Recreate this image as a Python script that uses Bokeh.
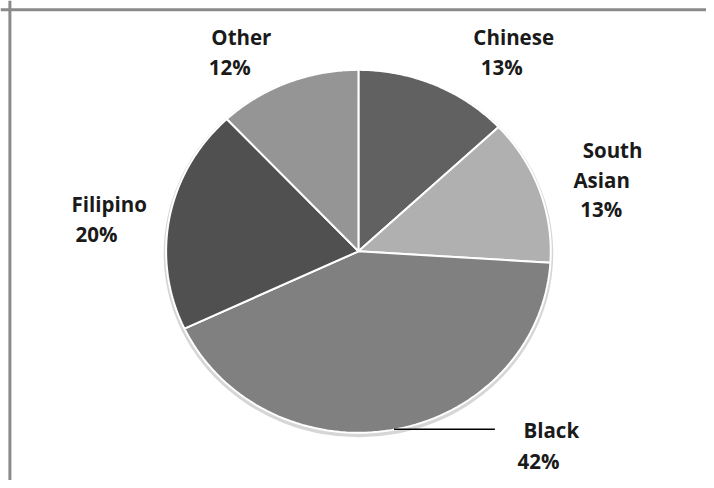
import numpy as np
from bokeh.plotting import figure
from bokeh.models import Range1d, Span
from bokeh.core.properties import value
from bokeh.embed import file_html
from bokeh.resources import INLINE

# ---- data ----
groups = ["Chinese", "South Asian", "Black", "Filipino", "Other"]
shares = [13, 13, 42, 20, 12]
colors = ["#616161", "#b0b0b0", "#808080", "#505050", "#959595"]

# ---- layout (reference-pixel coordinates, y grows downward) ----
W, H = 706, 480
RW, RH = 714, 488
cx, cy = 362, 255
rx, ry = 194.5, 184.5
# label line anchors, one per text line
label_pos = [
    [(519, 37), (507, 68)],
    [(619, 152), (608, 182), (607.5, 212)],
    [(557, 437), (544, 468)],
    [(110, 207), (97, 237)],
    [(243.6, 37), (231.8, 68)],
]

p = figure(width=W, height=H, output_backend="svg", toolbar_location=None,
           x_range=Range1d(0, RW), y_range=Range1d(RH, 0), min_border=0)
p.axis.visible = False
p.grid.visible = False
p.outline_line_color = None
p.background_fill_color = "white"
p.border_fill_color = "white"

# frame border (top and left visible)
p.add_layout(Span(location=9.5, dimension="width", line_color="#8a8a8a", line_width=3))
p.add_layout(Span(location=9.5, dimension="height", line_color="#8a8a8a", line_width=3))

# soft shadow under pie
p.ellipse(x=[cx], y=[cy + 2], width=[2 * rx + 5], height=[2 * ry + 5],
          fill_color="#d6d6d6", line_color=None)

# slices
total = float(sum(shares))
cum = np.concatenate([[0], np.cumsum(shares)]) / total
xs, ys = [], []
for i in range(len(shares)):
    th = np.radians(90 - 360 * np.linspace(cum[i], cum[i + 1], 80))
    xs.append(np.concatenate([[cx], cx + rx * np.cos(th)]).tolist())
    ys.append(np.concatenate([[cy], cy - ry * np.sin(th)]).tolist())
p.patches(xs=xs, ys=ys, fill_color=colors, line_color="white", line_width=2)

# labels
tx, ty, tt = [], [], []
for g, s, pos in zip(groups, shares, label_pos):
    lines = g.split(" ") + [f"{s}%"]
    for line, (x, y) in zip(lines, pos):
        tx.append(x)
        ty.append(y)
        tt.append(line)
p.text(x=tx, y=ty, text=tt, text_font=value("Open Sans"), text_font_style="bold",
       text_font_size="20.5px", text_color="#1a1a1a", text_align="center",
       text_baseline="alphabetic")

# leader line for Black
p.segment(x0=[398], y0=[436], x1=[500], y1=[436], line_color="black", line_width=1.5)

open("out.html", "w").write(file_html(p, INLINE))
